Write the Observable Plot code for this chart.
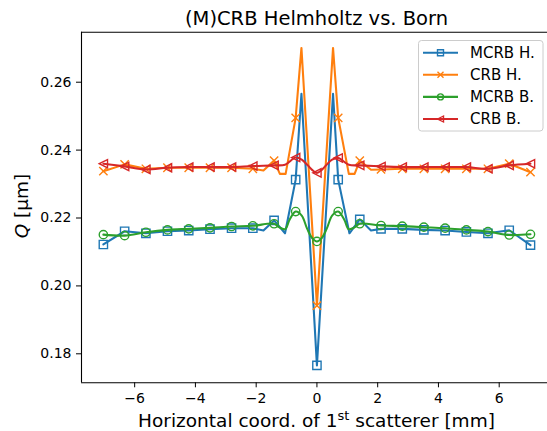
<!DOCTYPE html>
<html><head><meta charset="utf-8">
<script src="https://cdn.jsdelivr.net/npm/d3@7"></script>
<script src="https://cdn.jsdelivr.net/npm/@observablehq/plot@0.6"></script>
<style>body{margin:0;background:#fff}svg{display:block}</style>
</head><body><div id="chart"></div>
<script>
// Marker x positions (mm)
const markerX = [-7.03,-6.33,-5.63,-4.92,-4.22,-3.52,-2.81,-2.11,-1.41,-0.70,0,0.70,1.41,2.11,2.81,3.52,4.22,4.92,5.63,6.33,7.03];
const seriesNames = ["MCRB H.","CRB H.","MCRB B.","CRB B."];
// Values at marker positions (µm)
const mcrbH = [0.2122,0.2161,0.2155,0.2161,0.2163,0.2167,0.2170,0.2170,0.2193,0.2313,0.1766,0.2313,0.2196,0.2168,0.2168,0.2165,0.2163,0.2159,0.2155,0.2164,0.2120];
const crbH  = [0.2338,0.2358,0.2345,0.2348,0.2348,0.2348,0.2348,0.2345,0.2369,0.2495,0.1942,0.2495,0.2369,0.2343,0.2345,0.2345,0.2345,0.2345,0.2345,0.2360,0.2335];
const mcrbB = [0.2151,0.2148,0.2158,0.2165,0.2168,0.2171,0.2175,0.2177,0.2183,0.2219,0.2131,0.2219,0.2183,0.2178,0.2176,0.2173,0.2170,0.2165,0.2160,0.2150,0.2152];
const crbB  = [0.2360,0.2352,0.2343,0.2348,0.2350,0.2350,0.2350,0.2353,0.2355,0.2378,0.2333,0.2377,0.2355,0.2352,0.2350,0.2350,0.2350,0.2350,0.2345,0.2355,0.2360];
// Extra line vertices between markers
const mcrbHExtraX = [-1.76,-1.05,-0.51,0.53,1.07,1.78];
const mcrbHExtraY = [0.2163,0.2155,0.2566,0.2566,0.2155,0.2163];
const crbHExtraX = [-1.76,-1.22,-1.03,-0.51,0.53,1.05,1.24,1.78];
const crbHExtraY = [0.2340,0.2330,0.2330,0.2701,0.2701,0.2330,0.2330,0.2342];
const mcrbBExtraX = [-1.25,-1.05,-0.9,-0.5,-0.32,-0.15,0.15,0.32,0.5,0.9,1.05,1.25];
const mcrbBExtraY = [0.2173,0.2167,0.2195,0.2207,0.2168,0.2140,0.2140,0.2168,0.2207,0.2195,0.2167,0.2173];
const crbBExtraX = [-1.05,-0.5,-0.3,-0.15,0.15,0.3,0.5,1.05];
const crbBExtraY = [0.2357,0.2372,0.2355,0.2341,0.2341,0.2355,0.2372,0.2357];

const xTicks = [-6,-4,-2,0,2,4,6];
const yTicks = [0.18,0.20,0.22,0.24,0.26];
const colors = ["#1f77b4","#ff7f0e","#2ca02c","#d62728"];
const xDomain = [-7.75, 7.59];
const yDomain = [0.17146, 0.27473];

function pts(my, ex, ey){
  const p = markerX.map((x,i)=>({x, y: my[i]})).concat(ex.map((x,i)=>({x, y: ey[i]})));
  p.sort((a,b)=>a.x-b.x);
  return p;
}
function mk(my){ return markerX.map((x,i)=>({x, y: my[i]})); }

const sqSym = {draw(c,s){const r=Math.sqrt(s/Math.PI);c.moveTo(-r,-r);c.lineTo(r,-r);c.lineTo(r,r);c.lineTo(-r,r);c.closePath();}};
const xSym = {draw(c,s){const r=Math.sqrt(s/Math.PI);c.moveTo(-r,-r);c.lineTo(r,r);c.moveTo(-r,r);c.lineTo(r,-r);}};
const oSym = {draw(c,s){const r=Math.sqrt(s/Math.PI);c.moveTo(r,0);c.arc(0,0,r,0,2*Math.PI);}};
const tlSym = {draw(c,s){const r=Math.sqrt(s/Math.PI);c.moveTo(-r,0);c.lineTo(r,-r);c.lineTo(r,r);c.closePath();}};
const symbols = [sqSym,xSym,oSym,tlSym];

const series = [
  {line: pts(mcrbH,mcrbHExtraX,mcrbHExtraY), marks: mk(mcrbH), curve: "linear"},
  {line: pts(crbH,crbHExtraX,crbHExtraY), marks: mk(crbH), curve: "linear"},
  {line: pts(mcrbB,mcrbBExtraX,mcrbBExtraY), marks: mk(mcrbB), curve: "catmull-rom"},
  {line: pts(crbB,crbBExtraX,crbBExtraY), marks: mk(crbB), curve: "catmull-rom"}
];

const marks = [];
series.forEach((s,i)=>{
  marks.push(Plot.line(s.line, {x:"x", y:"y", stroke: colors[i], strokeWidth: 2.08, curve: s.curve, strokeLinejoin:"round"}));
  marks.push(Plot.dot(s.marks, {x:"x", y:"y", r: 4.15, symbol: symbols[i], stroke: colors[i], fill: "none", strokeWidth: 1.39}));
});

const plot = Plot.plot({
  width: 547, height: 431,
  marginLeft: 81, marginRight: 0, marginTop: 31.7, marginBottom: 48.7,
  style: {fontFamily: "DejaVu Sans", fontSize: "14px", background: "white", color: "black", overflow: "hidden"},
  x: {domain: xDomain},
  y: {domain: yDomain},
  marks: [
    ...marks,
    Plot.ruleX([xDomain[0]], {stroke: "black", strokeWidth: 1.1}),
    Plot.ruleY([yDomain[0], yDomain[1]], {stroke: "black", strokeWidth: 1.1}),
    Plot.axisX({ticks: xTicks, tickFormat: d3.format("d"), tickSize: 5, tickPadding: 5.5, label: null, fontSize: 14}),
    Plot.axisY({ticks: yTicks, tickFormat: ".2f", tickSize: 5, tickPadding: 5, label: null, fontSize: 14})
  ]
});
document.getElementById("chart").appendChild(plot);

const svg = d3.select(plot);
const ff = "DejaVu Sans";
svg.append("text").attr("x",316.5).attr("y",25).attr("text-anchor","middle")
  .attr("font-family",ff).attr("font-size",19.5).attr("fill","black").text("(M)CRB Helmholtz vs. Born");
const xl = svg.append("text").attr("x",316.5).attr("y",426.5).attr("text-anchor","middle")
  .attr("font-family",ff).attr("font-size",18.5).attr("fill","black");
xl.append("tspan").text("Horizontal coord. of 1");
xl.append("tspan").attr("dy",-7).attr("font-size",13).text("st");
xl.append("tspan").attr("dy",7).text(" scatterer [mm]");
const yl = svg.append("text").attr("transform","translate(27.5,206) rotate(-90)").attr("text-anchor","middle")
  .attr("font-family",ff).attr("font-size",18.5).attr("fill","black");
yl.append("tspan").attr("font-style","italic").text("Q");
yl.append("tspan").text(" [µm]");

// Legend
const lg = svg.append("g");
lg.append("rect").attr("x",418.5).attr("y",40.5).attr("width",124.5).attr("height",90.5).attr("rx",3)
  .attr("fill","white").attr("fill-opacity",0.8).attr("stroke","#cccccc").attr("stroke-width",1);
seriesNames.forEach((name,i)=>{
  const y = 52.7 + 22.1*i;
  lg.append("line").attr("x1",423).attr("x2",458).attr("y1",y).attr("y2",y).attr("stroke",colors[i]).attr("stroke-width",2.08);
  const r = 3;
  const p = d3.path();
  symbols[i].draw(p, Math.PI*r*r);
  lg.append("path").attr("d",p.toString()).attr("transform",`translate(440.5,${y})`)
    .attr("fill","none").attr("stroke",colors[i]).attr("stroke-width",1.39);
  lg.append("text").attr("x",470).attr("y",y).attr("dy","0.36em").attr("text-anchor","start").attr("font-family",ff).attr("font-size",15)
    .attr("fill","black").text(name);
});
</script>
</body></html>
